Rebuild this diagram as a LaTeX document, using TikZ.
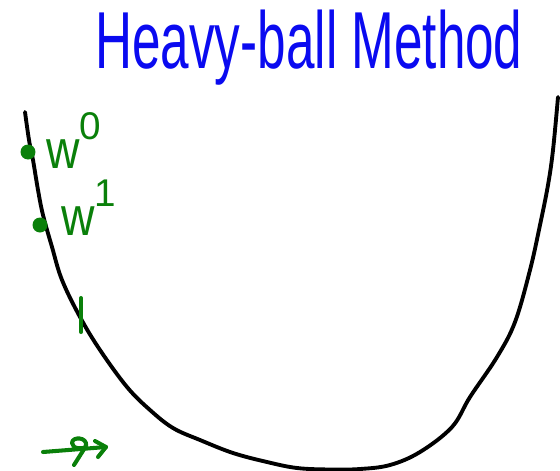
\documentclass[tikz,border=0pt]{standalone}
\usepackage{fontspec}
\setmainfont{Liberation Sans}
\usetikzlibrary{positioning}
\definecolor{penblue}{RGB}{10,10,240}
\definecolor{pengreen}{RGB}{10,128,10}
\newcommand{\supdigit}[1]{\raisebox{16pt}{\fontsize{22}{24}\selectfont #1}}

\begin{document}
\begin{tikzpicture}[
    x=0.02cm, y=-0.02cm,
    curve/.style={line width=2.2pt, line cap=round, line join=round},
    greenpen/.style={draw=pengreen, line width=2.3pt, line cap=round, line join=round},
    ball/.style={circle, fill=pengreen, minimum size=0.3cm, inner sep=0pt},
    wlabel/.style={text=pengreen, inner sep=0pt, anchor=base west, font=\fontsize{31}{33}\selectfont},
    heading/.style={text=penblue, inner sep=0pt, anchor=base, font=\fontsize{46}{50}\selectfont}
]
    \useasboundingbox (0,0) rectangle (560,470);

    \node[heading] (title) at (309,68) {\scalebox{0.634}[1]{Heavy-ball Method}};

    % the valley
    \draw[curve] plot[smooth, tension=0.6] coordinates {
        (25,112) (29,140) (33,160) (38,190) (43,215) (52,247) (62,280)
        (80,317) (100,350) (127,387) (150,410) (173,428) (200,440)
        (233,453) (267,462) (297,468) (330,469.5) (360,469) (390,465)
        (420,452) (452,427) (470,397) (497,357) (515,322) (530,270)
        (540,225) (548,185) (553,150) (558,97)};

    % iterates
    \node[ball] (w0) at (28,152) {};
    \node[ball] (w1) at (40,225) {};
    \node[wlabel] (w0 label) at (46,168) {\scalebox{0.85}[1]{w}\supdigit{0}};
    \node[wlabel] (w1 label) at (61,235) {\scalebox{0.85}[1]{w}\supdigit{1}};

    % tick
    \coordinate (tick top) at (81,298);
    \coordinate (tick bot) at (81,332);
    \draw[greenpen] (tick top) -- (tick bot);

    % scribbled arrow
    \coordinate (arr start) at (43,452);
    \coordinate (arr tip) at (106,447);
    \draw[greenpen] (arr start) -- (arr tip);
    \draw[greenpen] (95,441) -- (arr tip) -- (98,457);
    \draw[greenpen] (86,446) .. controls (88,437) and (72,436) .. (72,443)
        .. controls (72,449) and (84,450) .. (86,446) -- (74,465);
\end{tikzpicture}
\end{document}
